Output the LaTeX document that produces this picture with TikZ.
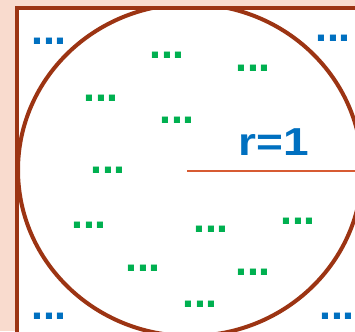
\documentclass[tikz,border=0pt]{standalone}
\usepackage{fontspec}
\usepackage{graphicx}
\setmainfont{Liberation Sans}
\definecolor{bg}{HTML}{F9DBCE}
\definecolor{rust}{HTML}{9C3413}
\definecolor{rline}{HTML}{D75B32}
\definecolor{dblue}{HTML}{0070C0}
\definecolor{dgreen}{HTML}{00B050}
\begin{document}
\begin{tikzpicture}[x=1pt,y=-1pt,
  dots/.style={font=\fontsize{43}{43}\selectfont\bfseries, inner sep=0pt, anchor=base},
  gdots/.style={dots, text=dgreen},
  bdots/.style={dots, text=dblue},
  frame/.style={rust, line width=4pt},
  radius line/.style={rline, line width=2pt}]
\useasboundingbox (0,0) rectangle (355,331);
\clip (0,0) rectangle (355,331);
\fill[bg] (0,0) rectangle (355,331);
\fill[white] (17,8) rectangle (370,350);
\begin{scope}
  \clip (17,8) rectangle (370,350);
  \draw[frame] (190,170) ellipse [x radius=172, y radius=166];
\end{scope}
\draw[frame] (370,8) -- (17,8) -- (17,350);
\coordinate (ctr) at (187,171);
\coordinate (rend) at (356,171);
\draw[radius line] (ctr) -- (rend);
\node[font=\fontsize{39}{39}\selectfont\bfseries, text=dblue, inner sep=0pt, anchor=base] (rlabel) at (274,155) {\scalebox{1.18}[1]{r=1}};
% blue corner dots
\node[bdots] (b1) at (49,45) {...};
\node[bdots] (b2) at (333,42) {...};
\node[bdots] (b3) at (49,319) {...};
\node[bdots] (b4) at (337,319) {...};
% green dots
\node[gdots] (g1) at (167,59) {...};
\node[gdots] (g2) at (253,72) {...};
\node[gdots] (g3) at (101,102) {...};
\node[gdots] (g4) at (177,124) {...};
\node[gdots] (g5) at (108,173) {...};
\node[gdots] (g6) at (89,228) {...};
\node[gdots] (g7) at (211,232) {...};
\node[gdots] (g8) at (298,224) {...};
\node[gdots] (g9) at (143,271) {...};
\node[gdots] (g10) at (253,275) {...};
\node[gdots] (g11) at (200,307) {...};
\end{tikzpicture}
\end{document}
